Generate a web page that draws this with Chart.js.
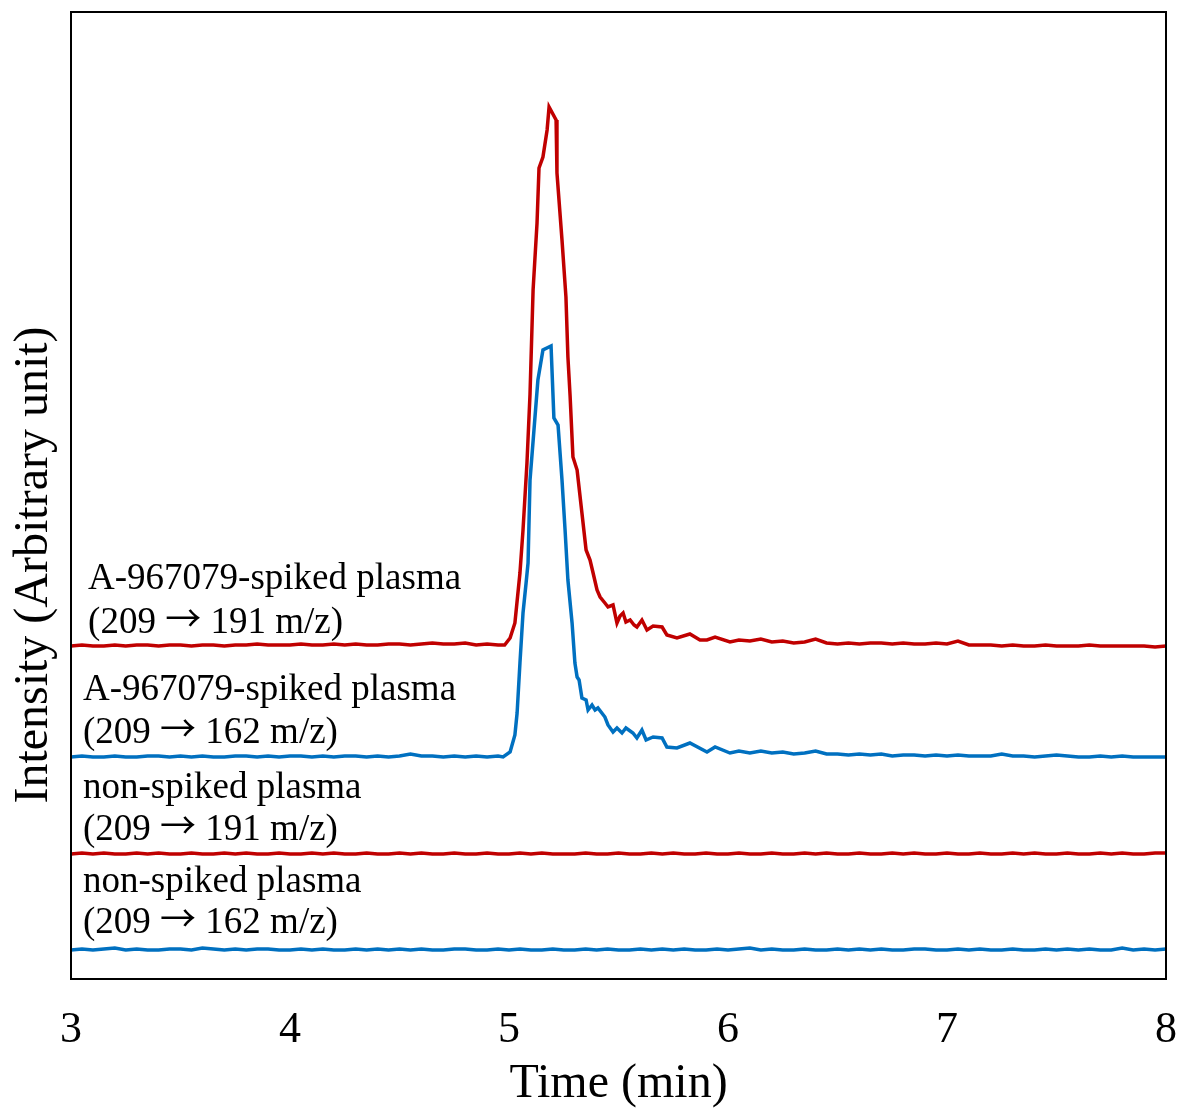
<!DOCTYPE html>
<html>
<head>
<meta charset="utf-8">
<script src="https://cdn.jsdelivr.net/npm/chart.js@4.4.1/dist/chart.umd.min.js"></script>
<style>
  html, body { margin: 0; padding: 0; background: #fff; }
</style>
</head>
<body>
<canvas id="chart" width="1179" height="1109"></canvas>
<script>
// 시간 축 (min)
const tickLabels = [3, 4, 5, 6, 7, 8];

// 기준선 측정 시간 (0.05 min 간격)
const baseTimes = [
  3.00, 3.05, 3.10, 3.15, 3.20, 3.25, 3.30, 3.35, 3.40, 3.45,
  3.50, 3.55, 3.60, 3.65, 3.70, 3.75, 3.80, 3.85, 3.90, 3.95,
  4.00, 4.05, 4.10, 4.15, 4.20, 4.25, 4.30, 4.35, 4.40, 4.45,
  4.50, 4.55, 4.60, 4.65, 4.70, 4.75, 4.80, 4.85, 4.90, 4.95,
  5.00, 5.05, 5.10, 5.15, 5.20, 5.25, 5.30, 5.35, 5.40, 5.45,
  5.50, 5.55, 5.60, 5.65, 5.70, 5.75, 5.80, 5.85, 5.90, 5.95,
  6.00, 6.05, 6.10, 6.15, 6.20, 6.25, 6.30, 6.35, 6.40, 6.45,
  6.50, 6.55, 6.60, 6.65, 6.70, 6.75, 6.80, 6.85, 6.90, 6.95,
  7.00, 7.05, 7.10, 7.15, 7.20, 7.25, 7.30, 7.35, 7.40, 7.45,
  7.50, 7.55, 7.60, 7.65, 7.70, 7.75, 7.80, 7.85, 7.90, 7.95,
  8.00
];

// 트레이스별 세로 오프셋 (arbitrary unit)
const traceOffsets = {
  spiked191: 333,
  spiked162: 222,
  blank191: 125,
  blank162: 29
};

// A-967079-spiked plasma (209 -> 191 m/z)
const spiked191Pre = [
  0, 1, 0, 0, 1, 0, 1, 1, 0, 1,
  1, 0, 1, 1, 0, 1, 1, 2, 1, 1,
  1, 2, 1, 1, 2, 1, 2, 1, 1, 2,
  2, 1, 2, 3, 2, 2, 3, 1, 2, 1
];
const spiked191PeakTimes = [
  4.98, 5.005, 5.027, 5.05, 5.064, 5.082, 5.096, 5.11, 5.128, 5.137,
  5.155, 5.174, 5.183, 5.215, 5.219, 5.242, 5.26, 5.269, 5.279, 5.292,
  5.311, 5.333, 5.352, 5.37, 5.384, 5.402, 5.416, 5.438, 5.452, 5.475,
  5.493, 5.507, 5.521, 5.534, 5.553, 5.571, 5.584, 5.607, 5.63, 5.658,
  5.699, 5.721, 5.767, 5.826, 5.872, 5.904, 5.941, 6.009
];
const spiked191PeakValues = [
  1, 8, 23, 73, 116, 183, 252, 356, 423, 478,
  489, 516, 539, 526, 473, 406, 349, 289, 250, 189,
  176, 133, 96, 86, 73, 56, 49, 43, 39, 41,
  23, 30, 33, 24, 26, 21, 19, 26, 16, 20,
  19, 11, 8, 12, 6, 6, 9, 4
];
const spiked191Post = [
  6, 5, 7, 4, 5, 3, 4, 7, 3, 2,
  3, 2, 3, 3, 2, 3, 2, 2, 3, 2,
  5, 1, 1, 1, 0, 1, 0, 0, 1, 0,
  0, 0, 1, 0, 0, 0, 0, 0, -1, 0
];

// A-967079-spiked plasma (209 -> 162 m/z)
const spiked162Pre = [
  0, 1, 0, 0, 1, 0, 0, 1, 1, 0,
  1, 0, 1, 0, 0, 1, 1, 0, 1, 0,
  1, 1, 0, 1, 0, 1, 1, 0, 1, 0,
  1, 3, 1, 1, 0, 1, 0, 1, 0, 1
];
const spiked162PeakTimes = [
  4.973, 5.005, 5.027, 5.037, 5.05, 5.064, 5.078, 5.087, 5.096, 5.114,
  5.132, 5.155, 5.192, 5.205, 5.224, 5.242, 5.256, 5.269, 5.288, 5.301,
  5.311, 5.32, 5.333, 5.352, 5.361, 5.379, 5.393, 5.406, 5.438, 5.452,
  5.475, 5.493, 5.516, 5.534, 5.566, 5.584, 5.607, 5.626, 5.658, 5.699,
  5.721, 5.767, 5.826, 5.904, 5.941, 6.009
];
const spiked162PeakValues = [
  0, 5, 22, 44, 94, 144, 174, 194, 277, 327,
  377, 407, 411, 339, 332, 277, 227, 177, 134, 94,
  80, 77, 59, 57, 47, 52, 47, 49, 40, 32,
  25, 29, 24, 29, 24, 19, 27, 17, 20, 19,
  10, 9, 14, 5, 10, 4
];
const spiked162Post = [
  6, 4, 6, 4, 5, 3, 4, 6, 3, 3,
  2, 3, 2, 3, 1, 2, 2, 1, 2, 1,
  2, 1, 1, 1, 3, 1, 1, 0, 1, 2,
  1, 0, 0, 1, 0, 1, 0, 0, 0, 0
];

// non-spiked plasma (209 -> 191 m/z)
const blank191Values = [
  0, 1, 0, 1, 0, 0, 1, 0, 1, 0,
  0, 1, 0, 0, 1, 0, 1, 0, 0, 1,
  0, 0, 1, 0, 1, 0, 0, 1, 0, 0,
  1, 0, 1, 0, 0, 1, 0, 0, 1, 0,
  0, 1, 0, 1, 0, 0, 0, 1, 0, 0,
  1, 0, 0, 1, 0, 1, 0, 0, 1, 0,
  0, 1, 0, 0, 1, 0, 0, 1, 0, 1,
  0, 0, 1, 0, 0, 1, 0, 1, 0, 0,
  1, 0, 0, 1, 0, 0, 1, 0, 1, 0,
  0, 1, 0, 0, 1, 0, 1, 0, 0, 1,
  1
];

// non-spiked plasma (209 -> 162 m/z)
const blank162Values = [
  0, 1, 0, 1, 2, 0, 1, 0, 0, 1,
  1, 0, 2, 1, 0, 1, 0, 1, 1, 0,
  0, 1, 0, 1, 0, 0, 1, 0, 1, 0,
  1, 0, 1, 0, 0, 1, 1, 0, 0, 1,
  0, 1, 0, 0, 1, 0, 0, 1, 0, 1,
  0, 0, 1, 0, 1, 0, 1, 0, 0, 1,
  0, 1, 2, 0, 1, 0, 0, 1, 0, 0,
  1, 0, 1, 0, 1, 0, 0, 1, 1, 0,
  0, 1, 0, 1, 0, 0, 1, 0, 0, 1,
  0, 1, 0, 1, 0, 0, 2, 0, 1, 0,
  1
];

// 트레이스 라벨 (위치: 시간, 세기)
const traceLabels = [
  { text: 'A-967079-spiked plasma', x: 3.078, y: 390 },
  { text: '(209 \u2192 191 m/z)', x: 3.078, y: 346 },
  { text: 'A-967079-spiked plasma', x: 3.055, y: 279 },
  { text: '(209 \u2192 162 m/z)', x: 3.055, y: 236 },
  { text: 'non-spiked plasma', x: 3.055, y: 181 },
  { text: '(209 \u2192 191 m/z)', x: 3.055, y: 139 },
  { text: 'non-spiked plasma', x: 3.055, y: 87 },
  { text: '(209 \u2192 162 m/z)', x: 3.055, y: 46 }
];

const RED = '#C00000';
const BLUE = '#0070C0';
const FONT = '"Liberation Serif", "Times New Roman", serif';
const ARROW_FONT = '"Noto Sans CJK JP", "DejaVu Sans", sans-serif';

function toPoints(times, values, offset) {
  return values.map((v, i) => ({ x: times[i], y: offset + v }));
}

function spikedTrace(pre, peakTimes, peakValues, post, offset) {
  return [
    ...toPoints(baseTimes.slice(0, 40), pre, offset),
    ...toPoints(peakTimes, peakValues, offset),
    ...toPoints(baseTimes.slice(61), post, offset)
  ];
}

const datasets = [
  {
    data: spikedTrace(spiked191Pre, spiked191PeakTimes, spiked191PeakValues, spiked191Post, traceOffsets.spiked191),
    borderColor: RED
  },
  {
    data: spikedTrace(spiked162Pre, spiked162PeakTimes, spiked162PeakValues, spiked162Post, traceOffsets.spiked162),
    borderColor: BLUE
  },
  {
    data: toPoints(baseTimes, blank191Values, traceOffsets.blank191),
    borderColor: RED
  },
  {
    data: toPoints(baseTimes, blank162Values, traceOffsets.blank162),
    borderColor: BLUE
  }
].map(ds => ({
  ...ds,
  borderWidth: 3.5,
  pointRadius: 0,
  tension: 0,
  fill: false
}));

// 라벨 (화살표는 폭이 넓은 글꼴로)
const labelPlugin = {
  id: 'traceLabels',
  afterDatasetsDraw(chart) {
    const { ctx, scales } = chart;
    ctx.save();
    ctx.fillStyle = '#000';
    ctx.textAlign = 'left';
    ctx.textBaseline = 'alphabetic';
    traceLabels.forEach(l => {
      let x = scales.x.getPixelForValue(l.x);
      const y = scales.y.getPixelForValue(l.y);
      const parts = l.text.split('\u2192');
      parts.forEach((part, i) => {
        if (i > 0) {
          ctx.font = '36px ' + ARROW_FONT;
          ctx.fillText('\u2192', x, y - 1);
          x += ctx.measureText('\u2192').width;
        }
        ctx.font = '37px ' + FONT;
        ctx.fillText(part, x, y);
        x += ctx.measureText(part).width;
      });
    });
    ctx.restore();
  }
};

// 테두리 + 세로축 제목
const framePlugin = {
  id: 'frame',
  afterDraw(chart) {
    const { ctx, chartArea: a } = chart;
    ctx.save();
    ctx.strokeStyle = '#000';
    ctx.lineWidth = 2;
    ctx.strokeRect(a.left, a.top, a.right - a.left, a.bottom - a.top);

    ctx.translate(34, 565);
    ctx.rotate(-Math.PI / 2);
    ctx.font = '48px ' + FONT;
    ctx.fillStyle = '#000';
    ctx.textAlign = 'center';
    ctx.textBaseline = 'middle';
    ctx.fillText('Intensity (Arbitrary unit)', 0, 0);
    ctx.restore();
  }
};

new Chart(document.getElementById('chart'), {
  type: 'line',
  data: { datasets },
  options: {
    responsive: false,
    animation: false,
    layout: { padding: { left: 71, right: 13, top: 12, bottom: 0 } },
    plugins: {
      legend: { display: false },
      tooltip: { enabled: false }
    },
    scales: {
      x: {
        type: 'linear',
        min: 3,
        max: 8,
        afterBuildTicks: scale => {
          scale.ticks = tickLabels.map(v => ({ value: v }));
        },
        afterFit: scale => {
          scale.height = 130;
          scale.paddingLeft = 0;
          scale.paddingRight = 0;
        },
        grid: { display: false, drawTicks: false },
        border: { display: false },
        ticks: {
          color: '#000',
          padding: 25,
          maxRotation: 0,
          font: { family: FONT, size: 44 }
        },
        title: {
          display: true,
          text: 'Time (min)',
          color: '#000',
          padding: { top: 0, bottom: -4 },
          font: { family: FONT, size: 48 }
        }
      },
      y: {
        display: false,
        min: 0,
        max: 967
      }
    }
  },
  plugins: [labelPlugin, framePlugin]
});
</script>
</body>
</html>
